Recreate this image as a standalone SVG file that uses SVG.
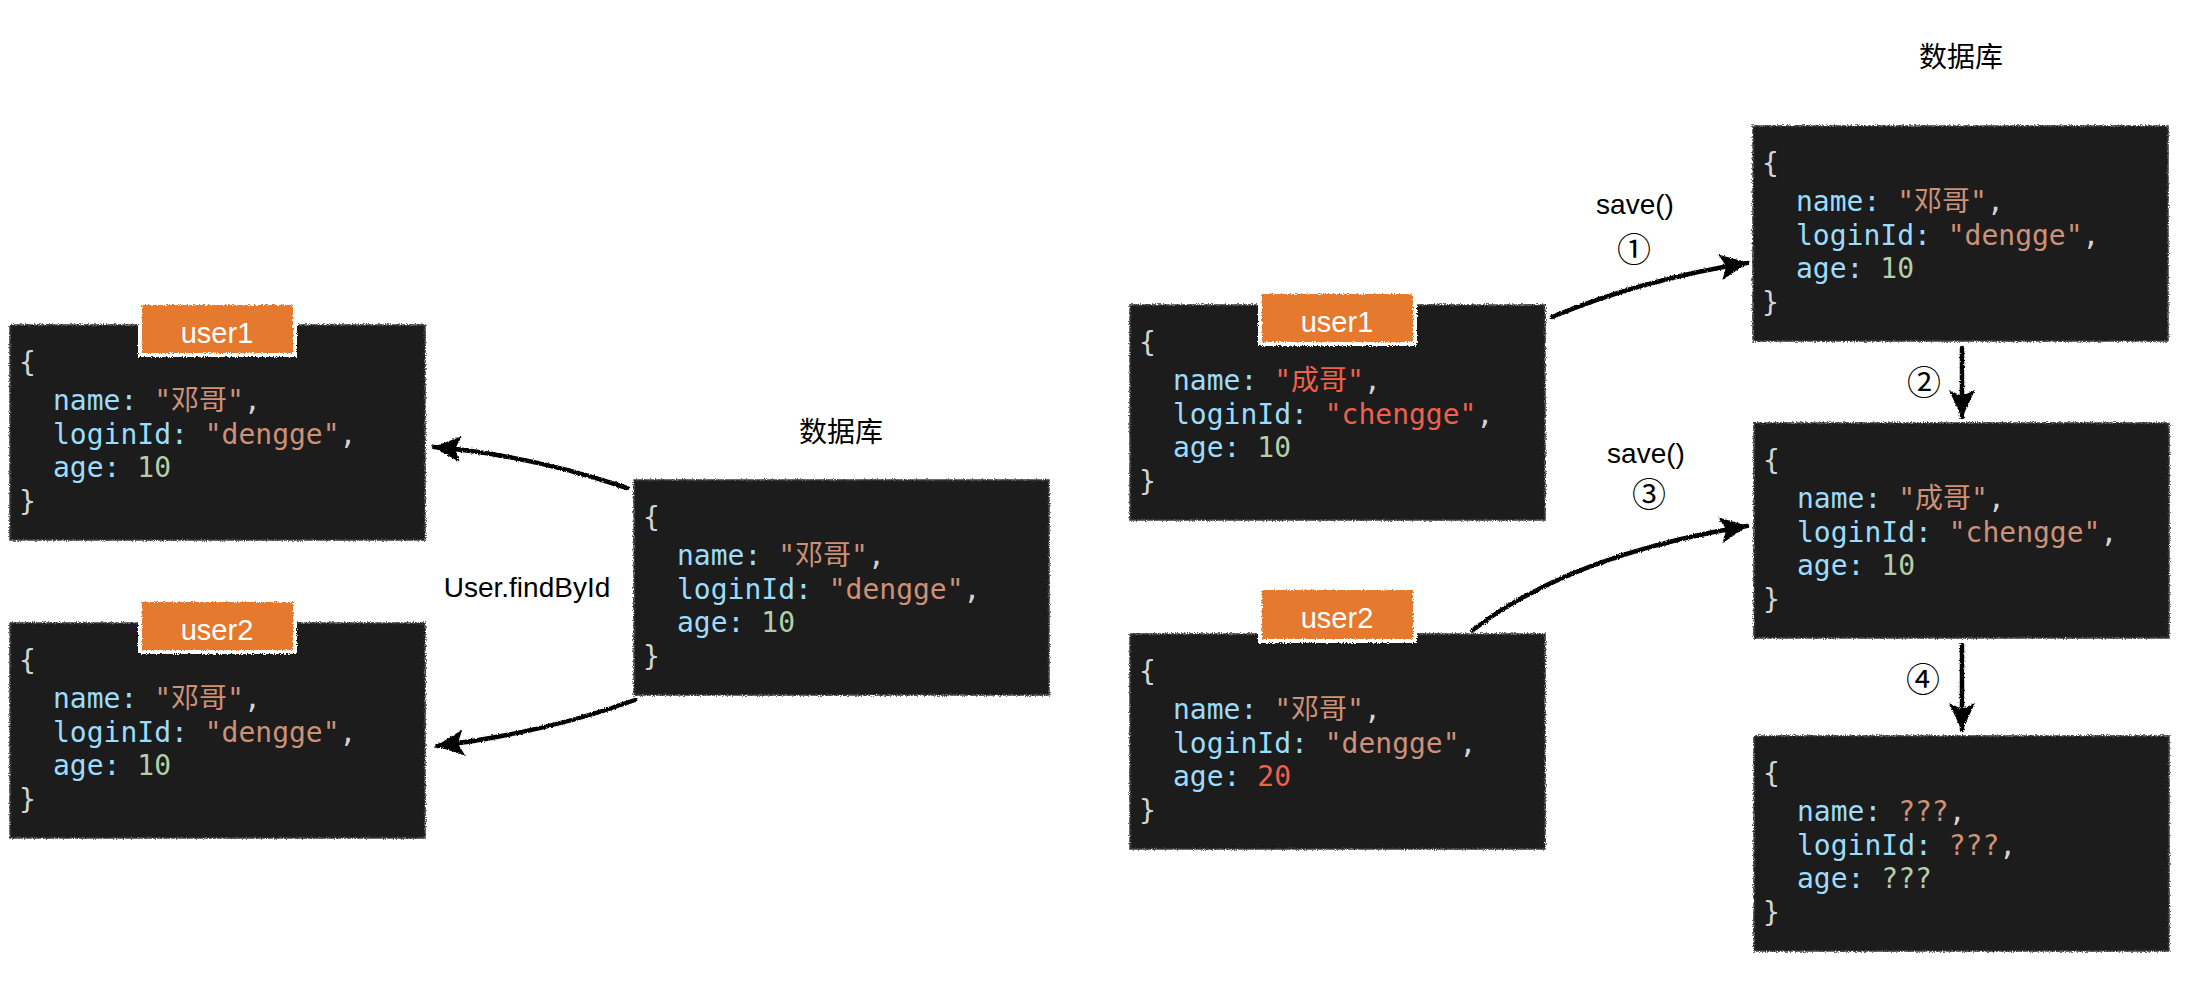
<svg xmlns="http://www.w3.org/2000/svg" width="2186" height="992" viewBox="0 0 2186 992">
<defs>
<style>
.box{fill:#1e1e1e;stroke:#3c3c3c;stroke-width:1.5;filter:url(#rough)}
.tag{fill:#e57a2f;stroke:#ffffff;stroke-width:4;filter:url(#rough)}
.tagt{font-family:"Liberation Sans",Arial,sans-serif;font-size:29px;fill:#ffffff;text-anchor:middle}
.code{font-family:"DejaVu Sans Mono","Noto Sans CJK SC",monospace;font-size:28px}
.k{fill:#9cdcfe}.s{fill:#ce9178}.n{fill:#b5cea8}.p{fill:#d4d4d4}.r{fill:#f0604d}
.lbl{font-family:"Liberation Sans",Arial,"Noto Sans CJK SC",sans-serif;font-size:28px;fill:#000000;text-anchor:middle}
.cjk{font-family:"Noto Sans CJK SC","Liberation Sans",sans-serif;font-size:28px;fill:#000000;text-anchor:middle}
.num{font-family:"Noto Sans CJK SC","DejaVu Sans",sans-serif;font-size:34px;fill:#000000;text-anchor:middle}
.arr{fill:none;stroke:#000000;stroke-width:4.5;stroke-linecap:round;marker-end:url(#ah)}
</style>
<filter id="rough" filterUnits="userSpaceOnUse" x="0" y="0" width="2186" height="992">
<feTurbulence type="fractalNoise" baseFrequency="0.9" numOctaves="2" seed="3" result="n"/>
<feDisplacementMap in="SourceGraphic" in2="n" scale="4" xChannelSelector="R" yChannelSelector="G"/>
</filter>
<filter id="roughl" filterUnits="userSpaceOnUse" x="0" y="0" width="2186" height="992">
<feTurbulence type="fractalNoise" baseFrequency="0.7" numOctaves="2" seed="7" result="n"/>
<feDisplacementMap in="SourceGraphic" in2="n" scale="3" xChannelSelector="R" yChannelSelector="G"/>
</filter>
<marker id="ah" markerUnits="userSpaceOnUse" viewBox="0 0 30 30" refX="28" refY="15" markerWidth="30" markerHeight="30" orient="auto">
<path d="M1,2 L29,15 L1,28 L7,15 Z" fill="#000000"/>
</marker>
</defs>
<rect x="0" y="0" width="2186" height="992" fill="#ffffff"/>

<g id="connectors" filter="url(#roughl)">
<path class="arr" d="M627,488 Q530,455 434,447"/>
<path class="arr" d="M635,700 Q545,733 437,746"/>
<path class="arr" d="M1552,317 Q1640,280 1747,263"/>
<path class="arr" d="M1473,630 Q1570,555 1747,526"/>
<path class="arr" d="M1962,348 L1962,417"/>
<path class="arr" d="M1962,645 L1962,730"/>
</g>

<g id="user1-left">
<rect class="box" x="10" y="325" width="415" height="215"/>
<rect class="tag" x="140" y="303" width="155" height="52"/>
<text class="tagt" x="217" y="343">user1</text>
<text class="code" x="19" y="372"><tspan class="p">{</tspan></text>
<text class="code" x="53" y="410"><tspan class="k">name:</tspan> <tspan class="s">"邓哥"</tspan><tspan class="p">,</tspan></text>
<text class="code" x="53" y="444"><tspan class="k">loginId:</tspan> <tspan class="s">"dengge"</tspan><tspan class="p">,</tspan></text>
<text class="code" x="53" y="477"><tspan class="k">age:</tspan> <tspan class="n">10</tspan></text>
<text class="code" x="19" y="511"><tspan class="p">}</tspan></text>
</g>

<g id="user2-left">
<rect class="box" x="10" y="623" width="415" height="215"/>
<rect class="tag" x="140" y="600" width="155" height="52"/>
<text class="tagt" x="217" y="640">user2</text>
<text class="code" x="19" y="670"><tspan class="p">{</tspan></text>
<text class="code" x="53" y="708"><tspan class="k">name:</tspan> <tspan class="s">"邓哥"</tspan><tspan class="p">,</tspan></text>
<text class="code" x="53" y="742"><tspan class="k">loginId:</tspan> <tspan class="s">"dengge"</tspan><tspan class="p">,</tspan></text>
<text class="code" x="53" y="775"><tspan class="k">age:</tspan> <tspan class="n">10</tspan></text>
<text class="code" x="19" y="809"><tspan class="p">}</tspan></text>
</g>

<g id="db-mid">
<text class="cjk" x="841" y="442">数据库</text>
<rect class="box" x="634" y="480" width="415" height="215"/>
<text class="code" x="643" y="527"><tspan class="p">{</tspan></text>
<text class="code" x="677" y="565"><tspan class="k">name:</tspan> <tspan class="s">"邓哥"</tspan><tspan class="p">,</tspan></text>
<text class="code" x="677" y="599"><tspan class="k">loginId:</tspan> <tspan class="s">"dengge"</tspan><tspan class="p">,</tspan></text>
<text class="code" x="677" y="632"><tspan class="k">age:</tspan> <tspan class="n">10</tspan></text>
<text class="code" x="643" y="666"><tspan class="p">}</tspan></text>
</g>

<g id="label-findbyid">
<text class="lbl" x="527" y="597">User.findById</text>
</g>

<g id="user1-right">
<rect class="box" x="1130" y="305" width="415" height="215"/>
<rect class="tag" x="1260" y="292" width="155" height="52"/>
<text class="tagt" x="1337" y="332">user1</text>
<text class="code" x="1139" y="352"><tspan class="p">{</tspan></text>
<text class="code" x="1173" y="390"><tspan class="k">name:</tspan> <tspan class="r">"成哥"</tspan><tspan class="p">,</tspan></text>
<text class="code" x="1173" y="424"><tspan class="k">loginId:</tspan> <tspan class="r">"chengge"</tspan><tspan class="p">,</tspan></text>
<text class="code" x="1173" y="457"><tspan class="k">age:</tspan> <tspan class="n">10</tspan></text>
<text class="code" x="1139" y="491"><tspan class="p">}</tspan></text>
</g>

<g id="user2-right">
<rect class="box" x="1130" y="634" width="415" height="215"/>
<rect class="tag" x="1260" y="588" width="155" height="53"/>
<text class="tagt" x="1337" y="628">user2</text>
<text class="code" x="1139" y="681"><tspan class="p">{</tspan></text>
<text class="code" x="1173" y="719"><tspan class="k">name:</tspan> <tspan class="s">"邓哥"</tspan><tspan class="p">,</tspan></text>
<text class="code" x="1173" y="753"><tspan class="k">loginId:</tspan> <tspan class="s">"dengge"</tspan><tspan class="p">,</tspan></text>
<text class="code" x="1173" y="786"><tspan class="k">age:</tspan> <tspan class="r">20</tspan></text>
<text class="code" x="1139" y="820"><tspan class="p">}</tspan></text>
</g>

<g id="db-1">
<text class="cjk" x="1961" y="67">数据库</text>
<rect class="box" x="1753" y="126" width="415" height="215"/>
<text class="code" x="1762" y="173"><tspan class="p">{</tspan></text>
<text class="code" x="1796" y="211"><tspan class="k">name:</tspan> <tspan class="s">"邓哥"</tspan><tspan class="p">,</tspan></text>
<text class="code" x="1796" y="245"><tspan class="k">loginId:</tspan> <tspan class="s">"dengge"</tspan><tspan class="p">,</tspan></text>
<text class="code" x="1796" y="278"><tspan class="k">age:</tspan> <tspan class="n">10</tspan></text>
<text class="code" x="1762" y="312"><tspan class="p">}</tspan></text>
</g>

<g id="db-2">
<rect class="box" x="1754" y="423" width="415" height="215"/>
<text class="code" x="1763" y="470"><tspan class="p">{</tspan></text>
<text class="code" x="1797" y="508"><tspan class="k">name:</tspan> <tspan class="s">"成哥"</tspan><tspan class="p">,</tspan></text>
<text class="code" x="1797" y="542"><tspan class="k">loginId:</tspan> <tspan class="s">"chengge"</tspan><tspan class="p">,</tspan></text>
<text class="code" x="1797" y="575"><tspan class="k">age:</tspan> <tspan class="n">10</tspan></text>
<text class="code" x="1763" y="609"><tspan class="p">}</tspan></text>
</g>

<g id="db-3">
<rect class="box" x="1754" y="736" width="415" height="215"/>
<text class="code" x="1763" y="783"><tspan class="p">{</tspan></text>
<text class="code" x="1797" y="821"><tspan class="k">name:</tspan> <tspan class="s">???</tspan><tspan class="p">,</tspan></text>
<text class="code" x="1797" y="855"><tspan class="k">loginId:</tspan> <tspan class="s">???</tspan><tspan class="p">,</tspan></text>
<text class="code" x="1797" y="888"><tspan class="k">age:</tspan> <tspan class="n">???</tspan></text>
<text class="code" x="1763" y="922"><tspan class="p">}</tspan></text>
</g>

<g id="step-labels">
<text class="lbl" x="1635" y="214">save()</text>
<text class="num" x="1634" y="262">①</text>
<text class="lbl" x="1646" y="463">save()</text>
<text class="num" x="1649" y="507">③</text>
<text class="num" x="1924" y="395">②</text>
<text class="num" x="1923" y="692">④</text>
</g>
</svg>
